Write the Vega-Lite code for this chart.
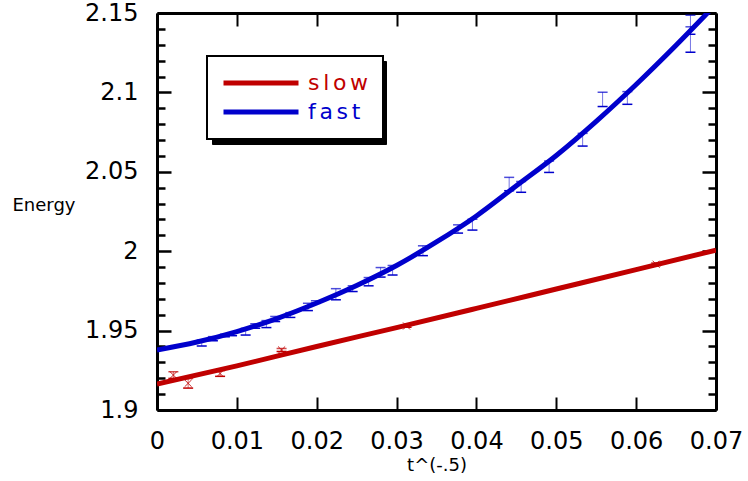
{
  "$schema": "https://vega.github.io/schema/vega-lite/v6.json",
  "width": 559,
  "height": 397,
  "autosize": "none",
  "padding": {"left": 157, "top": 13, "right": 32, "bottom": 71},
  "background": "white",
  "config": {
    "view": {"stroke": null},
    "font": "DejaVu Sans",
    "axis": {
      "domainColor": "black",
      "domainWidth": 3,
      "tickColor": "black",
      "labelColor": "black",
      "titleColor": "black",
      "grid": false,
      "labelFont": "DejaVu Sans",
      "labelFontSize": 24,
      "labelFlush": false,
      "labelOverlap": false,
      "titleFont": "DejaVu Sans",
      "titleFontWeight": "normal"
    }
  },
  "datasets": {
    "curves": [
      {"series": "slow", "x": 0, "y": 1.9163},
      {"series": "slow", "x": 0.01, "y": 1.9278},
      {"series": "slow", "x": 0.02, "y": 1.94},
      {"series": "slow", "x": 0.03, "y": 1.9519},
      {"series": "slow", "x": 0.04, "y": 1.964},
      {"series": "slow", "x": 0.05, "y": 1.9762},
      {"series": "slow", "x": 0.06, "y": 1.9884},
      {"series": "slow", "x": 0.07, "y": 2.0007},
      {"series": "fast", "x": 0, "y": 1.9378},
      {"series": "fast", "x": 0.005, "y": 1.9428},
      {"series": "fast", "x": 0.01, "y": 1.9494},
      {"series": "fast", "x": 0.015, "y": 1.9576},
      {"series": "fast", "x": 0.02, "y": 1.9674},
      {"series": "fast", "x": 0.025, "y": 1.9784},
      {"series": "fast", "x": 0.03, "y": 1.991},
      {"series": "fast", "x": 0.035, "y": 2.0058},
      {"series": "fast", "x": 0.04, "y": 2.0222},
      {"series": "fast", "x": 0.045, "y": 2.0412},
      {"series": "fast", "x": 0.05, "y": 2.0603},
      {"series": "fast", "x": 0.055, "y": 2.0818},
      {"series": "fast", "x": 0.06, "y": 2.105},
      {"series": "fast", "x": 0.065, "y": 2.1297},
      {"series": "fast", "x": 0.07, "y": 2.1556}
    ],
    "points": [
      {"series": "slow", "x": 0.00205, "y": 1.922, "lo": 1.9199, "hi": 1.9241},
      {"series": "slow", "x": 0.0039, "y": 1.9168, "lo": 1.9138, "hi": 1.9198},
      {"series": "slow", "x": 0.0079, "y": 1.923, "lo": 1.9212, "hi": 1.9248},
      {"series": "slow", "x": 0.0156, "y": 1.9378, "lo": 1.9368, "hi": 1.9388},
      {"series": "slow", "x": 0.03125, "y": 1.9529, "lo": 1.9521, "hi": 1.9537},
      {"series": "slow", "x": 0.0625, "y": 1.9918, "lo": 1.991, "hi": 1.9926},
      {"series": "fast", "x": 0.0056, "y": 1.9422, "lo": 1.9403, "hi": 1.9441},
      {"series": "fast", "x": 0.007, "y": 1.9449, "lo": 1.9436, "hi": 1.9462},
      {"series": "fast", "x": 0.0085, "y": 1.9469, "lo": 1.9461, "hi": 1.9477},
      {"series": "fast", "x": 0.0094, "y": 1.9476, "lo": 1.9468, "hi": 1.9484},
      {"series": "fast", "x": 0.0111, "y": 1.9493, "lo": 1.9472, "hi": 1.9514},
      {"series": "fast", "x": 0.0123, "y": 1.9529, "lo": 1.9515, "hi": 1.9543},
      {"series": "fast", "x": 0.0137, "y": 1.9541, "lo": 1.9519, "hi": 1.9563},
      {"series": "fast", "x": 0.0148, "y": 1.9573, "lo": 1.9557, "hi": 1.9589},
      {"series": "fast", "x": 0.0167, "y": 1.9598, "lo": 1.9583, "hi": 1.9613},
      {"series": "fast", "x": 0.0189, "y": 1.9649, "lo": 1.9626, "hi": 1.9672},
      {"series": "fast", "x": 0.0199, "y": 1.968, "lo": 1.9672, "hi": 1.9688},
      {"series": "fast", "x": 0.0224, "y": 1.9729, "lo": 1.9694, "hi": 1.9764},
      {"series": "fast", "x": 0.0245, "y": 1.9764, "lo": 1.9746, "hi": 1.9782},
      {"series": "fast", "x": 0.0265, "y": 1.9808, "lo": 1.9782, "hi": 1.9834},
      {"series": "fast", "x": 0.028, "y": 1.9867, "lo": 1.9837, "hi": 1.9897},
      {"series": "fast", "x": 0.0295, "y": 1.988, "lo": 1.985, "hi": 1.991},
      {"series": "fast", "x": 0.0333, "y": 2.0003, "lo": 1.9972, "hi": 2.0034},
      {"series": "fast", "x": 0.0377, "y": 2.014, "lo": 2.0114, "hi": 2.0166},
      {"series": "fast", "x": 0.0395, "y": 2.0167, "lo": 2.0133, "hi": 2.0201},
      {"series": "fast", "x": 0.0441, "y": 2.0423, "lo": 2.0381, "hi": 2.0465},
      {"series": "fast", "x": 0.0456, "y": 2.0405, "lo": 2.0371, "hi": 2.0439},
      {"series": "fast", "x": 0.0491, "y": 2.0532, "lo": 2.0496, "hi": 2.0568},
      {"series": "fast", "x": 0.0533, "y": 2.0702, "lo": 2.0662, "hi": 2.0742},
      {"series": "fast", "x": 0.0558, "y": 2.0956, "lo": 2.0911, "hi": 2.1001},
      {"series": "fast", "x": 0.0589, "y": 2.0965, "lo": 2.0925, "hi": 2.1005},
      {"series": "fast", "x": 0.0668, "y": 2.1333, "lo": 2.1253, "hi": 2.1413},
      {"series": "fast", "x": 0.0668, "y": 2.1426, "lo": 2.1366, "hi": 2.1486}
    ]
  },
  "resolve": {
    "scale": {"x": "shared", "y": "shared", "color": "shared"},
    "axis": {"x": "independent", "y": "independent"}
  },
  "layer": [
    {
      "data": {"name": "curves"},
      "mark": {"type": "line", "strokeWidth": 5, "clip": true, "interpolate": "monotone"},
      "encoding": {
        "x": {
          "field": "x", "type": "quantitative",
          "scale": {"domain": [0, 0.07], "nice": false, "zero": false},
          "axis": {
            "orient": "bottom",
            "values": [0, 0.01, 0.02, 0.03, 0.04, 0.05, 0.06, 0.07],
            "format": ".2~f",
            "tickSize": -13,
            "tickWidth": 2,
            "labelPadding": 32,
            "title": "t^(-.5)",
            "titleFontSize": 18,
            "titlePadding": 3
          }
        },
        "y": {
          "field": "y", "type": "quantitative",
          "scale": {"domain": [1.9, 2.15], "nice": false, "zero": false},
          "axis": {
            "orient": "left",
            "values": [1.9, 1.91, 1.92, 1.93, 1.94, 1.95, 1.96, 1.97, 1.98, 1.99, 2.0, 2.01, 2.02, 2.03, 2.04, 2.05, 2.06, 2.07, 2.08, 2.09, 2.1, 2.11, 2.12, 2.13, 2.14, 2.15],
            "labelExpr": "abs(datum.value*20 - round(datum.value*20)) < 0.01 ? format(datum.value, '.2~f') : ''",
            "tickSize": {"condition": {"test": "abs(datum.value*20 - round(datum.value*20)) < 0.01", "value": -14}, "value": -8},
            "tickWidth": 2.5,
            "labelPadding": 33,
            "title": "Energy",
            "titleAngle": 0,
            "titleAlign": "left",
            "titleBaseline": "middle",
            "titleX": -145,
            "titleY": 192,
            "titleFontSize": 18
          }
        },
        "color": {
          "field": "series", "type": "nominal",
          "scale": {"domain": ["slow", "fast"], "range": ["#c00000", "#0000cc"]},
          "legend": {
            "orient": "none",
            "legendX": 50,
            "legendY": 43,
            "title": null,
            "symbolType": "stroke",
            "symbolSize": 5625,
            "symbolStrokeWidth": 5,
            "clipHeight": 26,
            "labelFont": "DejaVu Sans",
            "labelFontSize": 22,
            "labelOffset": 7,
            "labelLimit": 0,
            "labelExpr": "join(split(datum.label, ''), '\u2006')",
            "padding": 14,
            "rowPadding": 3,
            "strokeColor": "black",
            "fillColor": "white",
            "zindex": 2,
            "encode": {
              "legend": {"update": {"strokeWidth": {"value": 2}}},
              "labels": {"update": {"fill": {"signal": "datum.label === 'slow' ? '#c00000' : '#0000cc'"}}}
            }
          }
        }
      }
    },
    {
      "data": {"name": "points"},
      "mark": {"type": "rule", "strokeWidth": 1, "opacity": 0.55},
      "encoding": {
        "x": {
          "field": "x", "type": "quantitative",
          "scale": {"domain": [0, 0.07], "nice": false, "zero": false},
          "axis": {
            "orient": "top",
            "values": [0, 0.01, 0.02, 0.03, 0.04, 0.05, 0.06, 0.07],
            "labels": false,
            "tickSize": -13,
            "tickWidth": 2,
            "title": null
          }
        },
        "y": {
          "field": "lo", "type": "quantitative",
          "scale": {"domain": [1.9, 2.15], "nice": false, "zero": false},
          "axis": {
            "orient": "right",
            "values": [1.9, 1.91, 1.92, 1.93, 1.94, 1.95, 1.96, 1.97, 1.98, 1.99, 2.0, 2.01, 2.02, 2.03, 2.04, 2.05, 2.06, 2.07, 2.08, 2.09, 2.1, 2.11, 2.12, 2.13, 2.14, 2.15],
            "labels": false,
            "tickSize": {"condition": {"test": "abs(datum.value*20 - round(datum.value*20)) < 0.01", "value": -14}, "value": -8},
            "tickWidth": 2.5,
            "title": null
          }
        },
        "y2": {"field": "hi"},
        "color": {"field": "series", "type": "nominal", "scale": {"domain": ["slow", "fast"], "range": ["#c00000", "#0000cc"]}, "legend": null}
      }
    },
    {
      "data": {"name": "points"},
      "mark": {"type": "tick", "orient": "horizontal", "size": 10, "thickness": 1.5},
      "encoding": {
        "x": {"field": "x", "type": "quantitative", "axis": null},
        "y": {"field": "lo", "type": "quantitative", "axis": null},
        "color": {"field": "series", "type": "nominal", "scale": {"domain": ["slow", "fast"], "range": ["#c00000", "#0000cc"]}, "legend": null},
        "opacity": {
          "field": "series", "type": "nominal",
          "scale": {"range": [1, 1]},
          "legend": {
            "orient": "none",
            "legendX": 55,
            "legendY": 48,
            "title": null,
            "symbolType": "stroke",
            "symbolSize": 5625,
            "symbolStrokeWidth": 5,
            "symbolStrokeColor": "black",
            "symbolFillColor": "black",
            "clipHeight": 26,
            "labelFont": "DejaVu Sans",
            "labelFontSize": 22,
            "labelOffset": 66,
            "labelLimit": 0,
            "labelColor": "black",
            "labelExpr": "''",
            "padding": 14,
            "rowPadding": 3,
            "strokeColor": "black",
            "fillColor": "black",
            "zindex": 1
          }
        }
      }
    },
    {
      "data": {"name": "points"},
      "mark": {"type": "tick", "orient": "horizontal", "size": 10, "thickness": 1.5},
      "encoding": {
        "x": {"field": "x", "type": "quantitative", "axis": null},
        "y": {"field": "hi", "type": "quantitative", "axis": null},
        "color": {"field": "series", "type": "nominal", "scale": {"domain": ["slow", "fast"], "range": ["#c00000", "#0000cc"]}, "legend": null}
      }
    },
    {
      "data": {"name": "points"},
      "transform": [{"filter": "datum.series === 'slow'"}],
      "mark": {"type": "point", "shape": "M-1,-1L1,1M1,-1L-1,1", "size": 50, "filled": false, "strokeWidth": 1, "opacity": 0.85},
      "encoding": {
        "x": {"field": "x", "type": "quantitative", "axis": null},
        "y": {"field": "y", "type": "quantitative", "axis": null},
        "color": {"field": "series", "type": "nominal", "scale": {"domain": ["slow", "fast"], "range": ["#c00000", "#0000cc"]}, "legend": null}
      }
    }
  ]
}
